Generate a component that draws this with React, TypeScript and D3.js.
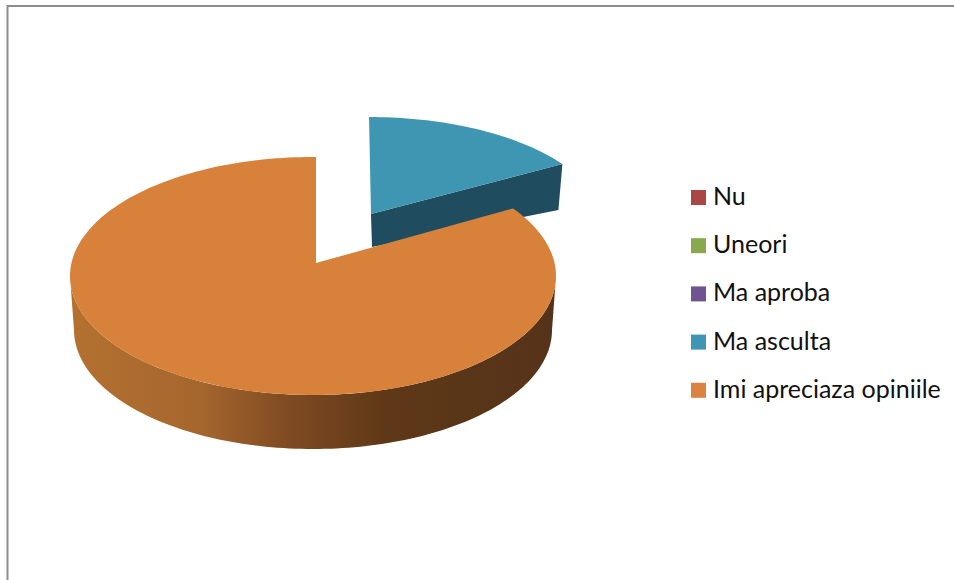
import React from 'react'
import * as d3 from 'd3'

const categories = ['Nu', 'Uneori', 'Ma aproba', 'Ma asculta', 'Imi apreciaza opiniile']
const values = [0, 0, 0, 2, 11]
const colors = ['#a94745', '#8aa84d', '#705490', '#3f96b2', '#d8813b']

const sideOffsets = [0, 0.27, 0.45, 0.65, 1]
const sideColors = ['#b4712f', '#a5662e', '#7f4a22', '#5e3817', '#55331a']

const width = 954
const height = 580
const depth = 54

// every slice sits on its own ellipse, the 3d tilt makes the apex sit above the ellipse centre
const orangeDisc = { cx: 313, cy: 276, rx: 243, ry: 119, apexX: 316, apexY: 263 }
const blueDisc = { cx: 369, cy: 226, rx: 235, ry: 109, apexX: 371, apexY: 214 }

const project = (disc, a, drop = 0, shrink = 0) => [
    disc.cx + (disc.rx - shrink) * Math.sin(a),
    disc.cy + drop - disc.ry * Math.cos(a),
]

const arcPoints = (disc, a0, a1, drop = 0, shrink = 0) => {
    const n = Math.ceil(Math.abs(a1 - a0) * 40)
    return d3.range(n + 1).map(i => project(disc, a0 + (a1 - a0) * i / n, drop, shrink))
}

const App = () => {
    const arcs = d3.pie<number>().sort(null)(values)
    const line = d3.line()
    const blue = arcs[3]
    const orange = arcs[4]

    const blueTop = line([
        [blueDisc.apexX, blueDisc.apexY],
        ...arcPoints(blueDisc, blue.startAngle, blue.endAngle),
    ]) + 'Z'

    const blueEnd = project(blueDisc, blue.endAngle)
    const blueSide = line([
        [blueDisc.apexX, blueDisc.apexY],
        blueEnd,
        [blueEnd[0] - 4, blueEnd[1] + 46],
        [blueDisc.apexX + 1, blueDisc.apexY + 33],
    ]) + 'Z'

    const orangeArc = arcPoints(orangeDisc, orange.startAngle, orange.endAngle)
    const orangeTop = line([
        [orangeDisc.apexX, orangeDisc.apexY],
        ...orangeArc,
        [orangeDisc.apexX, orangeArc[orangeArc.length - 1][1]],
    ]) + 'Z'

    // outer wall of the big slice, front half of the ellipse only
    const wallTop = arcPoints(orangeDisc, Math.PI / 2, Math.PI * 1.5)
    const wallBottom = arcPoints(orangeDisc, Math.PI * 1.5, Math.PI / 2, depth, 4)
    const orangeWall = line([...wallTop, ...wallBottom]) + 'Z'

    return (
        <svg
            width={width}
            height={height}
            viewBox={`0 0 ${width} ${height}`}
            style={{ position: 'absolute', left: 0, top: 0, background: '#fff' }}
        >
            <defs>
                <linearGradient id="wall" gradientUnits="userSpaceOnUse" x1={70} x2={556} y1={0} y2={0}>
                    {sideOffsets.map((o, i) => (
                        <stop key={o} offset={o} stopColor={sideColors[i]} />
                    ))}
                </linearGradient>
            </defs>

            <path d="M7.5,580V6H954" fill="none" stroke="#8c8c8c" strokeWidth={2} />

            <path d={blueSide} fill="#1f4d5f" />
            <path d={blueTop} fill={colors[3]} />
            <path d={orangeWall} fill="url(#wall)" />
            <path d={orangeTop} fill={colors[4]} />

            <g fontFamily="Lato, 'Open Sans', sans-serif" fontSize={25} fill="#111">
                {categories.map((c, i) => {
                    const y = 190 + i * 48.2
                    return (
                        <g key={c}>
                            <rect x={691} y={y} width={15} height={15} fill={i === 4 ? '#db8340' : colors[i]} />
                            <text x={713} y={y + 15}>{c}</text>
                        </g>
                    )
                })}
            </g>
        </svg>
    )
}

export default App
